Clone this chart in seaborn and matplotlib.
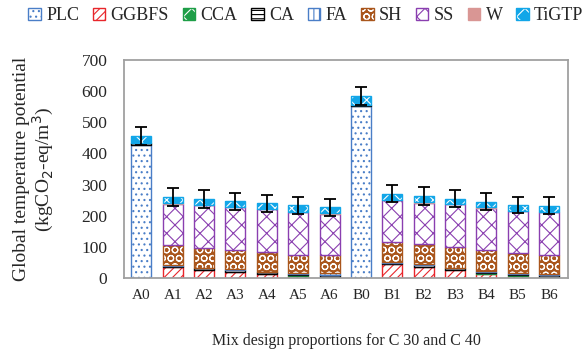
import seaborn as sns
import pandas as pd
import matplotlib.pyplot as plt
import matplotlib.patches as mpatches
import numpy as np

mixes = ["A0", "A1", "A2", "A3", "A4", "A5", "A6",
         "B0", "B1", "B2", "B3", "B4", "B5", "B6"]
plc = [428, 0, 0, 0, 0, 0, 0, 552, 0, 0, 0, 0, 0, 0]
ggbfs = [0, 35, 27, 20, 13, 6, 0, 0, 44, 37, 27, 14, 6, 0]
cca = [0, 0, 0, 0, 0, 3, 5, 0, 0, 0, 0, 3, 4, 3]
ca = [4, 5, 4, 5, 5, 5, 6, 4, 5, 5, 4, 4, 4, 6]
fa = [0, 3, 2, 3, 3, 3, 4, 0, 3, 3, 2, 3, 3, 4]
sh = [0, 62, 64, 61, 62, 58, 58, 0, 65, 64, 67, 65, 62, 61]
ss = [0, 134, 137, 138, 137, 138, 134, 0, 133, 133, 137, 137, 137, 138]
w = [0, 0.5, 0.5, 0.5, 0.5, 0.5, 0.5, 0, 0.5, 0.5, 0.5, 0.5, 0.5, 0.5]
tigtp = [25, 20, 19, 19, 19, 20, 20, 28, 20, 21, 17, 19, 18, 19]
err = [29, 28, 28, 27, 27, 27, 27, 28, 28, 28, 28, 27, 27, 27]

components = ["PLC", "GGBFS", "CCA", "CA", "FA", "SH", "SS", "W", "TiGTP"]
values = [plc, ggbfs, cca, ca, fa, sh, ss, w, tigtp]

# (facecolor, hatch colour, hatch, outline colour)
styles = {
    "PLC":   ("white", "#4A7EC7", "...", "#4A7EC7"),
    "GGBFS": ("white", "#E8262B", "////", "#E8262B"),
    "CCA":   ("#1E9E47", "white", "xx", "#1E9E47"),
    "CA":    ("white", "black", "----", "black"),
    "FA":    ("white", "#4A7EC7", "|||", "#4A7EC7"),
    "SH":    ("#A9561C", "white", "OO", "#A9561C"),
    "SS":    ("white", "#8A3FB0", "xx", "#8A3FB0"),
    "W":     ("#D99694", "#D99694", "", "#D99694"),
    "TiGTP": ("#12A6E8", "white", "xx", "#12A6E8"),
}

plt.rcParams["hatch.linewidth"] = 0.8
sns.set_style("white")
plt.rcParams["font.family"] = ["Liberation Serif", "DejaVu Serif"]

fig, ax = plt.subplots(figsize=(5.88, 3.52), dpi=100)
fig.subplots_adjust(left=0.211, right=0.966, top=0.83, bottom=0.21)

bottom = np.zeros(len(mixes))
for name, vals in zip(components, values):
    fc, hc, hatch, oc = styles[name]
    df = pd.DataFrame({"mix": mixes, "val": vals})
    sns.barplot(data=df, x="mix", y="val", order=mixes, color=fc,
                width=0.64, bottom=bottom, ax=ax, errorbar=None)
    for p, v in zip(ax.containers[-1], vals):
        p.set_facecolor(fc)
        p.set_edgecolor(hc)
        p.set_hatch(hatch)
        p.set_linewidth(0)
        if v > 0 and oc != hc:
            # outline drawn separately so hatch keeps its own colour
            x, y = p.get_xy()
            ax.add_patch(mpatches.Rectangle((x, y), p.get_width(), p.get_height(),
                                            fill=False, edgecolor=oc, lw=1.0))
        elif v > 0:
            p.set_linewidth(1.0)
    bottom = bottom + np.array(vals)

ax.errorbar(np.arange(len(mixes)), bottom, yerr=err, fmt="none",
            ecolor="black", elinewidth=1.3, capsize=4.5, capthick=1.3)

ax.set_ylim(0, 700)
ax.set_xlim(-0.55, 13.6)
ax.set_yticks(range(0, 701, 100))
ax.set_xlabel("Mix design proportions for C 30 and C 40", fontsize=11.5, labelpad=22)
ax.set_ylabel("Global temperature potential\n(kgCO$_2$-eq/m$^3$)", fontsize=14,
              labelpad=18, linespacing=1.05)
ax.tick_params(axis="y", direction="in", length=5, color="#A0A0A0", labelsize=12.5, pad=12)
ax.tick_params(axis="x", length=0, labelsize=11, pad=8)
for s in ax.spines.values():
    s.set_color("#A0A0A0")
    s.set_linewidth(1.3)

handles = []
for name in components:
    fc, hc, hatch, oc = styles[name]
    fill = mpatches.Patch(facecolor=fc, edgecolor=hc, hatch=hatch, lw=0)
    frame = mpatches.Patch(fill=False, edgecolor=oc, lw=1.0)
    handles.append((fill, frame))
fig.legend(handles, components, loc="center", bbox_to_anchor=(0.52, 0.955),
           ncol=9, frameon=False, fontsize=13, handlelength=0.7, handleheight=0.7,
           handletextpad=0.3, columnspacing=0.75, borderpad=0)

plt.savefig("out.png", dpi=100)
